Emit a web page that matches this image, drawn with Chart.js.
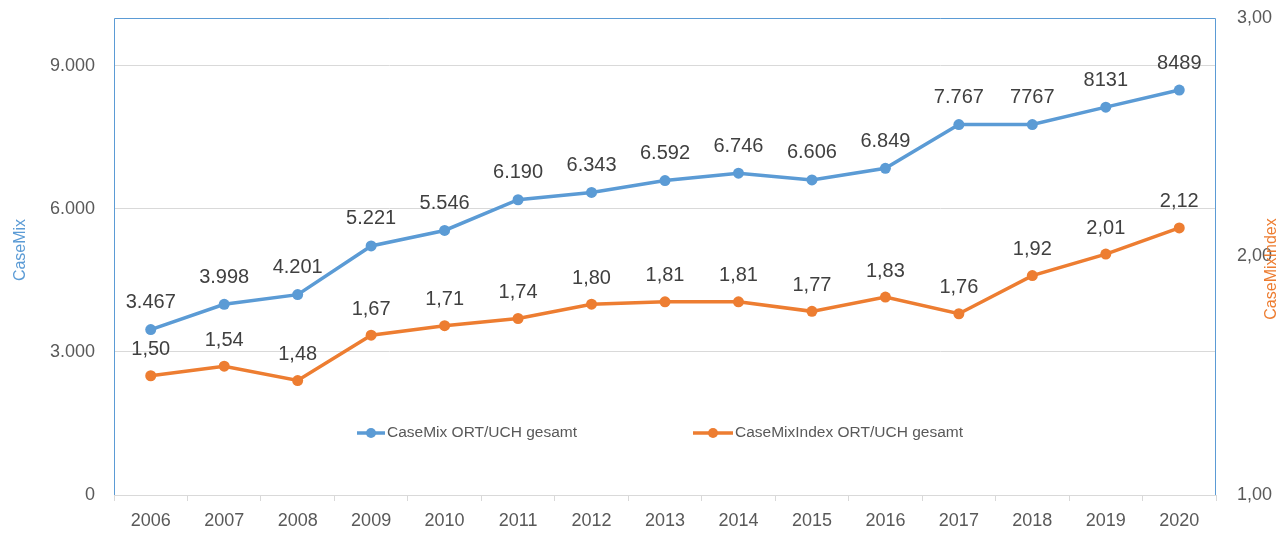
<!DOCTYPE html>
<html>
<head>
<meta charset="utf-8">
<script src="https://cdn.jsdelivr.net/npm/chart.js@4.4.1/dist/chart.umd.min.js"></script>
<style>
    body { margin: 0; background: #fff; }
    canvas { display: block; }
</style>
</head>
<body>
<canvas id="casemix-chart" width="1280" height="536"></canvas>
<script>
// Jahre und Werte
var years = ["2006", "2007", "2008", "2009", "2010", "2011", "2012", "2013", "2014", "2015", "2016", "2017", "2018", "2019", "2020"];
var caseMix = [3467, 3998, 4201, 5221, 5546, 6190, 6343, 6592, 6746, 6606, 6849, 7767, 7767, 8131, 8489];
var caseMixIndex = [1.50, 1.54, 1.48, 1.67, 1.71, 1.74, 1.80, 1.81, 1.81, 1.77, 1.83, 1.76, 1.92, 2.01, 2.12];
var caseMixTicks = [0, 3000, 6000, 9000];
var cmiTicks = [1, 2, 3];
// ab 2018 wurden die Beschriftungen ohne Tausenderpunkt eingetragen
var plainLabelFrom = 12;

var blue = "#5b9bd5";
var orange = "#ed7d31";
var font = "'Liberation Sans', Arial, sans-serif";

function thousands(v) {
    return String(Math.round(v)).replace(/\B(?=(\d{3})+(?!\d))/g, ".");
}
function comma(v) {
    return v.toFixed(2).replace(".", ",");
}

// Werte ueber den Punkten, Rahmen, Achsentitel und Legende
var extras = {
    id: "extras",
    beforeDatasetsDraw: function(chart) {
        var ctx = chart.ctx, a = chart.chartArea;
        ctx.save();
        ctx.strokeStyle = blue;
        ctx.lineWidth = 1;
        ctx.beginPath();
        ctx.moveTo(a.left + 0.5, a.bottom);
        ctx.lineTo(a.left + 0.5, a.top + 0.5);
        ctx.lineTo(a.right - 0.5, a.top + 0.5);
        ctx.lineTo(a.right - 0.5, a.bottom);
        ctx.stroke();
        ctx.restore();
    },
    afterDatasetsDraw: function(chart) {
        var ctx = chart.ctx;
        ctx.save();
        ctx.font = "20px " + font;
        ctx.fillStyle = "#404040";
        ctx.textAlign = "center";
        ctx.textBaseline = "middle";
        chart.getDatasetMeta(0).data.forEach(function(p, i) {
            var v = caseMix[i];
            ctx.fillText(i >= plainLabelFrom ? String(v) : thousands(v), p.x, p.y - 27);
        });
        chart.getDatasetMeta(1).data.forEach(function(p, i) {
            ctx.fillText(comma(caseMixIndex[i]), p.x, p.y - 26);
        });
        ctx.restore();
    },
    afterDraw: function(chart) {
        var ctx = chart.ctx;
        ctx.save();
        // Achsentitel
        ctx.font = "16px " + font;
        ctx.textAlign = "center";
        ctx.textBaseline = "middle";
        ctx.translate(21, 250);
        ctx.rotate(-Math.PI / 2);
        ctx.fillStyle = blue;
        ctx.fillText("CaseMix", 0, 0);
        ctx.restore();

        ctx.save();
        ctx.font = "16px " + font;
        ctx.textAlign = "center";
        ctx.textBaseline = "middle";
        ctx.translate(1272, 269);
        ctx.rotate(-Math.PI / 2);
        ctx.fillStyle = orange;
        ctx.fillText("CaseMixIndex", 0, 0);
        ctx.restore();

        // Legende
        var items = [
            { text: "CaseMix ORT/UCH gesamt", color: blue, x0: 357, x1: 385 },
            { text: "CaseMixIndex ORT/UCH gesamt", color: orange, x0: 693, x1: 733 }
        ];
        ctx.save();
        ctx.font = "15.5px " + font;
        ctx.textBaseline = "middle";
        items.forEach(function(it) {
            var y = 433;
            ctx.strokeStyle = it.color;
            ctx.lineWidth = 3.5;
            ctx.beginPath();
            ctx.moveTo(it.x0, y);
            ctx.lineTo(it.x1, y);
            ctx.stroke();
            ctx.fillStyle = it.color;
            ctx.beginPath();
            ctx.arc((it.x0 + it.x1) / 2, y, 5, 0, Math.PI * 2);
            ctx.fill();
            ctx.fillStyle = "#595959";
            ctx.fillText(it.text, it.x1 + 2, y);
        });
        ctx.restore();
    }
};

// feste Breite der y-Achsen, ohne Zusatzabstand fuer die Randbeschriftung
function fixWidth(w) {
    return function(s) {
        s.width = w;
        s.paddingTop = 0;
        s.paddingBottom = 0;
    };
}

new Chart(document.getElementById("casemix-chart"), {
    type: "line",
    data: {
        labels: years,
        datasets: [
            {
                label: "CaseMix ORT/UCH gesamt",
                data: caseMix,
                yAxisID: "y",
                borderColor: blue,
                backgroundColor: blue,
                borderWidth: 3.5,
                pointRadius: 5.5,
                pointBorderWidth: 0,
                tension: 0
            },
            {
                label: "CaseMixIndex ORT/UCH gesamt",
                data: caseMixIndex,
                yAxisID: "y1",
                borderColor: orange,
                backgroundColor: orange,
                borderWidth: 3.5,
                pointRadius: 5.5,
                pointBorderWidth: 0,
                tension: 0
            }
        ]
    },
    options: {
        responsive: false,
        devicePixelRatio: 1,
        animation: false,
        layout: { padding: { top: 18, left: 0, right: 0, bottom: 0 } },
        plugins: {
            legend: { display: false },
            tooltip: { enabled: false }
        },
        scales: {
            x: {
                offset: true,
                grid: {
                    offset: true,
                    drawOnChartArea: false,
                    drawTicks: true,
                    tickLength: 6,
                    color: "#d9d9d9"
                },
                border: { display: true, color: "#d9d9d9" },
                ticks: {
                    color: "#595959",
                    font: { family: font, size: 18 },
                    padding: 9,
                    maxRotation: 0,
                    autoSkip: false
                },
                afterFit: function(s) {
                    s.height = 41;
                    s.paddingLeft = 0;
                    s.paddingRight = 0;
                }
            },
            y: {
                position: "left",
                min: 0,
                max: 10000,
                afterBuildTicks: function(s) {
                    s.ticks = caseMixTicks.map(function(v) { return { value: v }; });
                },
                grid: { color: "#d9d9d9", drawTicks: false },
                border: { display: false },
                ticks: {
                    color: "#595959",
                    font: { family: font, size: 18 },
                    padding: 19,
                    callback: function(v) { return thousands(v); }
                },
                afterFit: fixWidth(114)
            },
            y1: {
                position: "right",
                min: 1,
                max: 3,
                afterBuildTicks: function(s) {
                    s.ticks = cmiTicks.map(function(v) { return { value: v }; });
                },
                grid: { display: false, drawTicks: false },
                border: { display: false },
                ticks: {
                    color: "#595959",
                    font: { family: font, size: 18 },
                    padding: 21,
                    callback: function(v) { return comma(v); }
                },
                afterFit: fixWidth(64)
            }
        }
    },
    plugins: [extras]
});
</script>
</body>
</html>
